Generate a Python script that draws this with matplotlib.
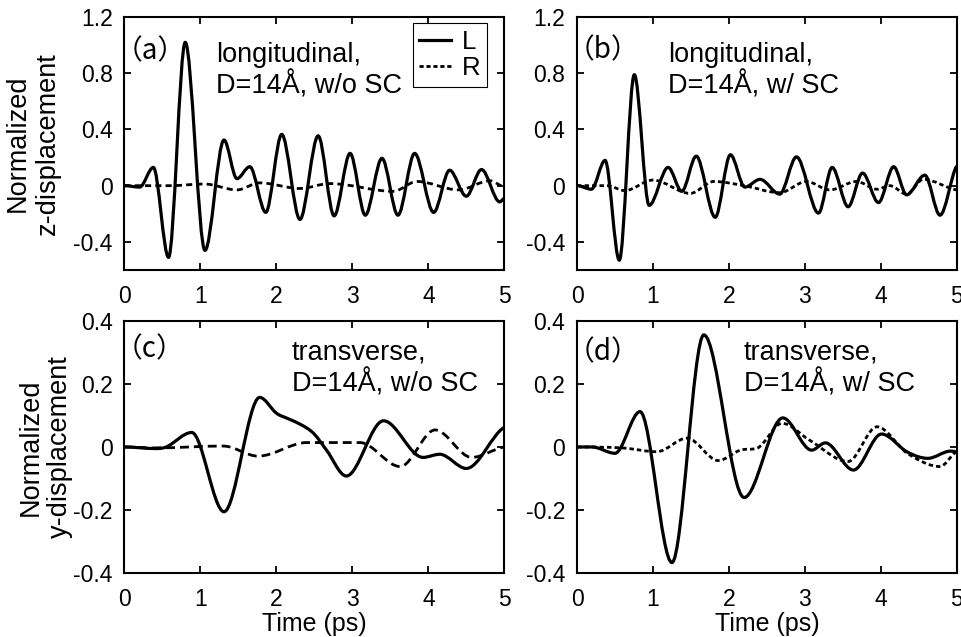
import numpy as np
import matplotlib
matplotlib.use('Agg')
import matplotlib.pyplot as plt
from matplotlib.path import Path
from matplotlib.patches import PathPatch
from matplotlib.lines import Line2D

plt.rcParams['font.family'] = ['Liberation Sans', 'DejaVu Sans']

# turning points of each trace: time (ps) and normalized displacement
a_L_t = [0, 0.2, 0.38, 0.58, 0.80, 1.06, 1.31, 1.48, 1.65, 1.86, 2.07, 2.31, 2.55,
         2.76, 2.97, 3.17, 3.39, 3.60, 3.82, 4.07, 4.28, 4.50, 4.70, 4.94, 5.0]
a_L_v = [0, -0.01, 0.13, -0.51, 1.02, -0.46, 0.325, 0.05, 0.135, -0.19, 0.365, -0.24, 0.355,
         -0.215, 0.23, -0.21, 0.195, -0.21, 0.23, -0.19, 0.11, -0.075, 0.115, -0.115, -0.09]
a_R_t = [0, 0.6, 1.05, 1.48, 1.78, 2.31, 2.70, 3.54, 3.85, 4.40, 4.81, 5.0]
a_R_v = [0, 0, 0.012, -0.03, 0.02, -0.02, 0.015, -0.04, 0.03, -0.03, 0.035, -0.01]

b_L_t = [0, 0.19, 0.37, 0.557, 0.755, 0.95, 1.20, 1.38, 1.57, 1.82, 2.02, 2.21, 2.41,
         2.67, 2.89, 3.18, 3.36, 3.57, 3.76, 3.97, 4.17, 4.34, 4.58, 4.78, 5.0]
b_L_v = [0, -0.025, 0.18, -0.53, 0.79, -0.14, 0.13, -0.04, 0.21, -0.225, 0.22, -0.01, 0.045,
         -0.06, 0.205, -0.195, 0.13, -0.15, 0.09, -0.12, 0.135, -0.065, 0.075, -0.21, 0.14]
b_R_t = [0, 0.40, 0.63, 1.00, 1.49, 1.80, 2.20, 2.67, 3.02, 3.33, 3.68, 3.95, 4.12,
         4.34, 4.56, 5.0]
b_R_v = [0, 0, -0.035, 0.04, -0.055, 0.03, 0.0, -0.05, 0.03, -0.03, 0.03, -0.025, 0.0,
         -0.06, 0.045, -0.03]

c_L_t = [0, 0.40, 0.55, 0.885, 1.31, 1.78, 2.00, 2.15, 2.33, 2.49, 2.66, 2.92, 3.41,
         3.93, 4.15, 4.50, 5.0]
c_L_v = [0, -0.005, 0, 0.046, -0.205, 0.157, 0.107, 0.09, 0.07, 0.043, -0.01, -0.092, 0.083,
         -0.033, -0.023, -0.068, 0.062]
c_R_t = [0, 0.40, 1.30, 1.76, 2.40, 3.10, 3.63, 4.09, 4.57, 5.0]
c_R_v = [0, -0.003, 0.003, -0.029, 0.014, 0.014, -0.062, 0.054, -0.033, 0.0]

d_L_t = [0, 0.2, 0.50, 0.83, 1.25, 1.67, 2.20, 2.71, 3.09, 3.27, 3.64, 4.01, 4.35,
         4.62, 4.92, 5.0]
d_L_v = [0, 0, -0.02, 0.112, -0.366, 0.355, -0.16, 0.092, -0.01, 0.013, -0.073, 0.041, -0.016,
         -0.036, -0.013, -0.015]
d_R_t = [0, 0.6, 1.05, 1.45, 1.86, 2.15, 2.37, 2.70, 3.06, 3.57, 3.95, 4.35, 4.78, 5.0]
d_R_v = [0, -0.003, -0.015, 0.028, -0.043, -0.01, -0.004, 0.075, 0.022, -0.046, 0.064, -0.02,
         -0.062, -0.015]

panel_tags = ['（a）', '（b）', '（c）', '（d）']
panel_notes = ['longitudinal,\nD=14Å, w/o SC', 'longitudinal,\nD=14Å, w/ SC',
               'transverse,\nD=14Å, w/o SC', 'transverse,\nD=14Å, w/ SC']
series_names = ['L', 'R']
x_ticks = [0, 1, 2, 3, 4, 5]
z_ticks = [-0.4, 0, 0.4, 0.8, 1.2]
z_tick_labels = ['-0.4', '0', '0.4', '0.8', '1.2']
y_ticks = [-0.4, -0.2, 0, 0.2, 0.4]
y_tick_labels = ['-0.4', '-0.2', '0', '0.2', '0.4']


def smooth_path(t, v):
    # cubic Bezier path through the turning points (flat tangent at extrema)
    t = np.asarray(t, float)
    v = np.asarray(v, float)
    n = len(t)
    d = np.diff(v) / np.diff(t)
    m = np.zeros(n)
    for i in range(1, n - 1):
        if d[i - 1] * d[i] > 0:
            s = (v[i + 1] - v[i - 1]) / (t[i + 1] - t[i - 1])
            lim = 3 * min(abs(d[i - 1]), abs(d[i]))
            m[i] = np.sign(s) * min(abs(s), lim)
    m[-1] = 0.5 * d[-1]
    verts = [(t[0], v[0])]
    codes = [Path.MOVETO]
    for i in range(n - 1):
        h = t[i + 1] - t[i]
        verts += [(t[i] + h / 3, v[i] + m[i] * h / 3),
                  (t[i + 1] - h / 3, v[i + 1] - m[i + 1] * h / 3),
                  (t[i + 1], v[i + 1])]
        codes += [Path.CURVE4] * 3
    return Path(verts, codes)


def draw_trace(ax, t, v, ls, lw):
    patch = PathPatch(smooth_path(t, v), fill=False, edgecolor='black',
                      linewidth=lw, linestyle=ls, joinstyle='round')
    ax.add_patch(patch)


fig = plt.figure(figsize=(9.62, 6.37), dpi=100)
boxes = [[0.1294, 0.5761, 0.3948, 0.3972], [0.5998, 0.5761, 0.3947, 0.3972],
         [0.1294, 0.1000, 0.3948, 0.3966], [0.5998, 0.1000, 0.3947, 0.3966]]
traces = [(a_L_t, a_L_v, a_R_t, a_R_v, (0, (2.2, 1.5))),
          (b_L_t, b_L_v, b_R_t, b_R_v, (0, (1.6, 1.1))),
          (c_L_t, c_L_v, c_R_t, c_R_v, (0, (3.2, 1.8))),
          (d_L_t, d_L_v, d_R_t, d_R_v, (0, (1.6, 1.1)))]
note_x = [0.24, 0.24, 0.44, 0.44]
note_y = [0.902, 0.902, 0.924, 0.926]
tag_y = [0.865, 0.87, 0.885, 0.875]

for k in range(4):
    ax = fig.add_axes(boxes[k])
    lt, lv, rt, rv, dash = traces[k]
    draw_trace(ax, rt, rv, dash, 2.0)
    draw_trace(ax, lt, lv, '-', 2.3)
    ax.set_xlim(0, 5)
    ax.set_xticks(x_ticks)
    ax.set_xticklabels([str(x) for x in x_ticks])
    if k < 2:
        ax.set_ylim(-0.6, 1.2)
        ax.set_yticks(z_ticks)
        ax.set_yticklabels(z_tick_labels)
    else:
        ax.set_ylim(-0.4, 0.4)
        ax.set_yticks(y_ticks)
        ax.set_yticklabels(y_tick_labels)
        ax.set_xlabel('Time (ps)', fontsize=18, labelpad=1)
    ax.tick_params(direction='in', top=True, right=True, length=5, width=1.3,
                   labelsize=16.5)
    ax.tick_params(axis='x', pad=10.5)
    ax.tick_params(axis='y', pad=8.5)
    for sp in ax.spines.values():
        sp.set_linewidth(1.5)

    ax.text(-0.027, tag_y[k], panel_tags[k], transform=ax.transAxes, fontsize=20,
            family=['Noto Sans CJK JP', 'DejaVu Sans'], va='center', ha='left')
    ax.text(note_x[k], note_y[k], panel_notes[k], transform=ax.transAxes, fontsize=19.5,
            va='top', ha='left', linespacing=1.15)

    if k == 0:
        ax.set_ylabel('Normalized\nz-displacement', fontsize=19.5, labelpad=9)
        handles = [Line2D([], [], color='black', lw=2.3),
                   Line2D([], [], color='black', lw=2.0, ls=(0, (1.5, 1.0)))]
        leg = ax.legend(handles, series_names, loc='upper right',
                        bbox_to_anchor=(0.954, 0.975), borderaxespad=0,
                        fontsize=18.5, handlelength=1.25, handletextpad=0.4,
                        borderpad=0.25, labelspacing=0.1, fancybox=False,
                        framealpha=1)
        leg.get_frame().set_edgecolor('black')
        leg.get_frame().set_linewidth(0.8)
    if k == 2:
        ax.set_ylabel('Normalized\ny-displacement', fontsize=19.5, labelpad=0)

fig.savefig('out.png', dpi=100)
